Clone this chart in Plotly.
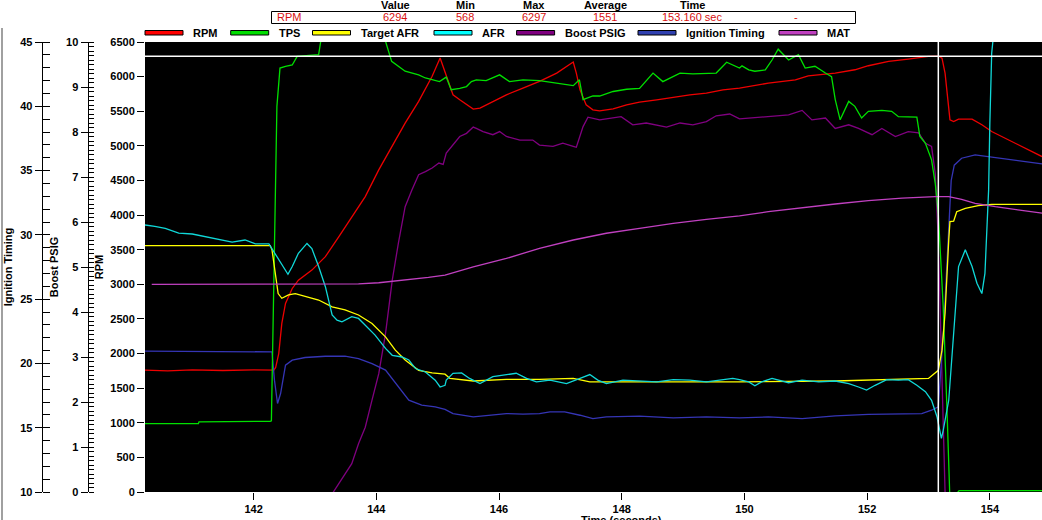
import plotly.graph_objects as go

# ---------------- data ----------------
rpm_pts = [(140.23, 1760), (140.6, 1750), (141.0, 1765), (141.5, 1755), (142.0, 1765), (142.33, 1760),
           (142.36, 1800), (142.41, 2000), (142.46, 2435), (142.52, 2724), (142.63, 2940), (142.73, 3060),
           (142.95, 3205), (143.17, 3400), (143.39, 3690), (143.60, 3978), (143.82, 4267), (144.04, 4653),
           (144.26, 4990), (144.47, 5328), (144.69, 5642), (144.91, 6004), (145.04, 6268), (145.14, 6002),
           (145.25, 5737), (145.36, 5665), (145.47, 5592), (145.58, 5530), (145.69, 5544), (145.85, 5617),
           (146.12, 5737), (146.39, 5833), (146.66, 5930), (146.94, 6050), (147.10, 6147), (147.21, 6210),
           (147.26, 6050), (147.32, 5810), (147.42, 5592), (147.53, 5520), (147.64, 5506), (147.86, 5535),
           (148.08, 5592), (148.29, 5631), (148.57, 5665), (148.84, 5703), (149.11, 5737), (149.38, 5761),
           (149.65, 5810), (149.92, 5833), (150.07, 5858), (150.39, 5906), (150.83, 5954), (151.04, 6012),
           (151.48, 6050), (151.80, 6099), (152.02, 6157), (152.35, 6219), (152.67, 6253), (153.00, 6292),
           (153.16, 6297), (153.22, 6268), (153.27, 6050), (153.33, 5568), (153.35, 5376), (153.41, 5352),
           (153.49, 5386), (153.71, 5386), (153.87, 5304), (154.03, 5207), (154.19, 5135), (154.41, 5048),
           (154.63, 4942), (154.85, 4845)]

tps_pts = [(140.23, 15.2), (141.10, 15.2), (141.11, 15.6), (142.08, 15.6), (142.27, 15.7), (142.29, 15.8),
           (142.33, 48.6), (142.38, 85.7), (142.43, 94.2), (142.52, 94.6), (142.63, 94.9), (142.71, 96.8),
           (143.06, 97.2), (143.11, 101.5), (143.2, 104.6), (144.0, 104.6), (144.12, 101.5), (144.25, 95.7),
           (144.47, 93.5), (144.69, 92.7), (144.80, 92.0), (144.96, 91.4), (145.03, 91.2), (145.14, 92.2),
           (145.22, 89.4), (145.36, 89.7), (145.47, 90.1), (145.55, 91.2), (145.63, 91.6), (145.79, 91.4),
           (146.01, 92.7), (146.17, 91.2), (146.39, 91.6), (146.66, 91.4), (146.88, 91.0), (147.21, 90.3),
           (147.31, 91.6), (147.37, 87.2), (147.53, 88.0), (147.64, 88.0), (147.86, 89.0), (148.08, 89.5),
           (148.29, 89.7), (148.51, 93.1), (148.67, 91.2), (148.95, 93.1), (149.16, 92.9), (149.38, 93.1),
           (149.54, 93.1), (149.71, 95.5), (149.92, 94.2), (149.96, 94.7), (150.07, 93.8), (150.17, 93.5),
           (150.34, 93.8), (150.45, 96.0), (150.55, 98.4), (150.72, 96.0), (150.88, 97.2), (150.99, 94.2),
           (151.15, 94.6), (151.32, 93.1), (151.42, 92.3), (151.48, 87.2), (151.56, 82.7), (151.70, 86.8),
           (151.80, 85.7), (151.91, 83.1), (152.02, 84.6), (152.24, 84.8), (152.40, 84.6), (152.51, 83.4),
           (152.81, 83.3), (152.86, 79.0), (152.95, 77.5), (153.05, 73.8), (153.11, 68.6), (153.16, 61.9),
           (153.24, 41.2), (153.30, 18.9), (153.35, -2.0), (153.50, 0.3), (154.85, 0.3)]

tafr_pts = [(140.23, 14.75), (142.27, 14.75), (142.30, 14.65), (142.35, 14.18), (142.40, 13.63),
            (142.46, 13.52), (142.57, 13.60), (142.68, 13.63), (142.84, 13.57), (143.06, 13.48),
            (143.28, 13.32), (143.49, 13.25), (143.71, 13.13), (143.93, 12.93), (144.15, 12.62),
            (144.31, 12.31), (144.47, 12.08), (144.69, 11.84), (144.91, 11.78), (145.12, 11.75),
            (145.20, 11.65), (145.58, 11.59), (146.12, 11.63), (146.66, 11.63), (147.21, 11.65),
            (147.48, 11.57), (149.92, 11.57), (151.48, 11.59), (153.00, 11.65), (153.11, 11.77),
            (153.16, 11.84), (153.22, 12.31), (153.27, 13.17), (153.33, 14.88), (153.35, 15.31),
            (153.41, 15.32), (153.46, 15.54), (153.60, 15.62), (153.81, 15.68), (154.03, 15.71),
            (154.85, 15.71)]

afr_pts = [(140.23, 15.23), (140.39, 15.20), (140.56, 15.15), (140.78, 15.04), (141.00, 15.02),
           (141.21, 14.96), (141.43, 14.88), (141.65, 14.83), (141.86, 14.88), (142.03, 14.79),
           (142.25, 14.79), (142.35, 14.57), (142.46, 14.33), (142.56, 14.08), (142.63, 14.26),
           (142.73, 14.57), (142.87, 14.80), (142.95, 14.68), (143.06, 14.26), (143.17, 13.79),
           (143.28, 13.13), (143.36, 13.01), (143.44, 12.97), (143.60, 13.09), (143.71, 13.05),
           (143.82, 12.89), (143.98, 12.66), (144.15, 12.35), (144.26, 12.19), (144.42, 12.15),
           (144.53, 12.08), (144.64, 11.88), (144.80, 11.80), (144.96, 11.61), (145.04, 11.45),
           (145.12, 11.49), (145.14, 11.61), (145.25, 11.77), (145.39, 11.78), (145.52, 11.65),
           (145.69, 11.53), (145.90, 11.69), (146.12, 11.73), (146.28, 11.77), (146.45, 11.65),
           (146.61, 11.57), (146.83, 11.61), (147.10, 11.53), (147.32, 11.65), (147.48, 11.74),
           (147.61, 11.61), (147.75, 11.53), (148.02, 11.61), (148.29, 11.59), (148.57, 11.57),
           (148.84, 11.62), (149.11, 11.61), (149.38, 11.57), (149.65, 11.61), (149.81, 11.65),
           (149.92, 11.62), (150.07, 11.57), (150.17, 11.48), (150.28, 11.57), (150.45, 11.65),
           (150.72, 11.55), (150.94, 11.61), (151.21, 11.57), (151.48, 11.59), (151.70, 11.53),
           (151.86, 11.45), (151.99, 11.38), (152.13, 11.49), (152.32, 11.62), (152.51, 11.61),
           (152.67, 11.62), (152.81, 11.49), (152.95, 11.34), (153.05, 11.14), (153.14, 10.75),
           (153.21, 10.25), (153.24, 10.44), (153.33, 11.14), (153.38, 12.08), (153.43, 13.17),
           (153.49, 14.26), (153.60, 14.65), (153.71, 14.26), (153.79, 13.87), (153.87, 13.63),
           (153.92, 14.10), (153.98, 16.05), (154.00, 17.61), (154.03, 19.24), (154.06, 19.66),
           (154.10, 20.63), (154.85, 21.12)]

boost_pts = [(140.23, -10.0), (142.30, -10.0), (142.45, -4.0), (143.00, -1.0), (143.30, 0.0),
             (143.49, 0.41), (143.60, 0.63), (143.71, 1.07), (143.82, 1.44), (143.93, 2.04),
             (144.04, 2.63), (144.15, 3.52), (144.26, 4.71), (144.36, 5.53), (144.47, 6.34),
             (144.58, 6.71), (144.69, 7.05), (144.80, 7.12), (144.91, 7.20), (145.02, 7.31),
             (145.09, 7.28), (145.14, 7.53), (145.25, 7.71), (145.36, 7.90), (145.47, 7.97),
             (145.58, 8.11), (145.63, 8.08), (145.74, 8.01), (145.90, 7.94), (146.01, 8.01),
             (146.12, 7.90), (146.34, 7.82), (146.55, 7.82), (146.66, 7.71), (146.88, 7.68),
             (147.04, 7.75), (147.21, 7.68), (147.26, 7.66), (147.37, 8.12), (147.45, 8.33),
             (147.64, 8.27), (147.86, 8.31), (147.99, 8.34), (148.18, 8.16), (148.40, 8.20),
             (148.73, 8.11), (148.95, 8.20), (149.16, 8.16), (149.38, 8.23), (149.54, 8.36),
             (149.76, 8.40), (149.92, 8.29), (150.07, 8.31), (150.39, 8.34), (150.72, 8.38),
             (150.94, 8.48), (151.10, 8.27), (151.32, 8.31), (151.48, 8.08), (151.70, 8.16),
             (151.86, 8.08), (152.08, 7.94), (152.24, 8.08), (152.46, 7.90), (152.67, 8.01),
             (152.84, 7.98), (152.95, 7.75), (153.05, 7.68), (153.11, 7.08), (153.16, 5.60),
             (153.22, 2.63), (153.27, 0.0), (153.35, -5.0), (154.85, -10.0)]

ign_pts = [(140.23, 20.95), (142.27, 20.95), (142.30, 20.90), (142.34, 18.70), (142.39, 16.88),
           (142.44, 17.66), (142.52, 19.86), (142.63, 20.25), (142.84, 20.46), (143.17, 20.56),
           (143.49, 20.56), (143.71, 20.38), (143.93, 19.99), (144.15, 19.48), (144.36, 18.18),
           (144.53, 17.14), (144.74, 16.75), (144.96, 16.62), (145.12, 16.43), (145.25, 16.10),
           (145.58, 15.84), (145.85, 15.97), (146.12, 16.10), (146.39, 16.05), (146.66, 16.10),
           (146.83, 16.23), (147.07, 16.23), (147.32, 15.97), (147.53, 15.71), (147.75, 15.84),
           (148.29, 15.90), (148.84, 15.76), (149.38, 15.84), (149.92, 15.76), (150.39, 15.84),
           (150.94, 15.71), (151.48, 15.92), (152.02, 16.03), (152.57, 16.05), (152.89, 16.10),
           (153.05, 16.36), (153.16, 16.62), (153.25, 22.92), (153.34, 32.08), (153.37, 34.23),
           (153.42, 35.42), (153.54, 35.96), (153.76, 36.22), (153.98, 36.09), (154.19, 35.96),
           (154.63, 35.70), (154.85, 35.52)]

mat_pts = [(140.34, 92.3), (143.50, 92.3), (143.71, 92.5), (144.04, 93.0), (144.36, 93.9),
           (144.58, 94.5), (144.85, 95.4), (145.12, 96.4), (145.58, 100.1), (146.12, 103.8),
           (146.66, 108.3), (147.21, 112.0), (147.75, 115.0), (148.29, 117.2), (148.84, 119.4),
           (149.38, 121.2), (149.92, 122.7), (150.39, 124.6), (150.94, 126.4), (151.48, 128.0),
           (152.02, 129.5), (152.57, 130.6), (153.11, 131.3), (153.33, 131.3), (153.54, 130.1),
           (153.76, 128.3), (154.09, 126.8), (154.47, 125.4), (154.85, 123.9)]

cursor_time = 153.16
cursor_rpm = 6294

table_headers = ["Value", "Min", "Max", "Average", "Time"]
table_row = ["RPM", "6294", "568", "6297", "1551", "153.160 sec", "-"]

legend_names = ["RPM", "TPS", "Target AFR", "AFR", "Boost PSIG", "Ignition Timing", "MAT"]

# ---------------- styling ----------------
W, H = 1042, 520
PL, PT, PB = 145, 42, 492
FONT = "Liberation Sans, Arial, sans-serif"

line_colors = {"RPM": "#ee0000", "TPS": "#00e000", "Target AFR": "#ffff00", "AFR": "#10d8d8",
               "Boost PSIG": "#800080", "Ignition Timing": "#3535b5", "MAT": "#c040c0"}
swatch_colors = {"RPM": "#ff0000", "TPS": "#00dd00", "Target AFR": "#ffff00", "AFR": "#00ffff",
                 "Boost PSIG": "#800080", "Ignition Timing": "#3040b0", "MAT": "#c040c0"}


def px(X):
    return X / W


def py(Y):
    return (PB - Y) / (PB - PT)


def unzip(pts):
    return [p[0] for p in pts], [p[1] for p in pts]


fig = go.Figure()
series = [("RPM", rpm_pts, "y"), ("TPS", tps_pts, "y4"), ("Target AFR", tafr_pts, "y5"),
          ("AFR", afr_pts, "y5"), ("Boost PSIG", boost_pts, "y2"),
          ("Ignition Timing", ign_pts, "y3"), ("MAT", mat_pts, "y6")]
for name, pts, ax in series:
    t, v = unzip(pts)
    fig.add_trace(go.Scatter(x=t, y=v, mode="lines", name=name, yaxis=ax,
                             line=dict(color=line_colors[name], width=1.3),
                             showlegend=False, hoverinfo="skip"))

bold11 = dict(family=FONT, size=11, color="black", weight="bold")

fig.update_layout(
    width=W, height=H,
    margin=dict(l=0, r=0, t=PT, b=H - PB, pad=0),
    paper_bgcolor="white", plot_bgcolor="black",
    showlegend=False,
    xaxis=dict(domain=[PL / W, 1], range=[140.23, 154.85], dtick=2, tick0=142,
               ticks="outside", ticklen=7, tickcolor="black", tickfont=bold11,
               showgrid=False, zeroline=False, showline=False, automargin=False),
    yaxis=dict(range=[0, 6500], dtick=500, tick0=0, ticks="outside", ticklen=7,
               tickcolor="black", tickfont=bold11, showgrid=False, zeroline=False,
               showline=False, automargin=False,
               title=dict(text="RPM", font=bold11, standoff=4)),
    yaxis2=dict(range=[0, 10], dtick=1, tick0=0, overlaying="y", anchor="free",
                position=87.5 / W, side="left", showline=True, linecolor="black",
                linewidth=1, ticks="outside", ticklen=7, tickcolor="black",
                tickfont=bold11, showgrid=False, zeroline=False, automargin=False,
                minor=dict(ticks="inside", ticklen=5, dtick=0.1, tickcolor="black",
                           showgrid=False),
                title=dict(text="Boost PSIG", font=bold11, standoff=4)),
    yaxis3=dict(range=[10, 45], dtick=5, tick0=10, overlaying="y", anchor="free",
                position=41.7 / W, side="left", showline=True, linecolor="black",
                linewidth=1, ticks="outside", ticklen=7, tickcolor="black",
                tickfont=bold11, showgrid=False, zeroline=False, automargin=False,
                minor=dict(ticks="inside", ticklen=7, dtick=1, tickcolor="black",
                           showgrid=False),
                title=dict(text="Ignition Timing", font=bold11, standoff=4)),
    yaxis4=dict(range=[0, 100], overlaying="y", visible=False),
    yaxis5=dict(range=[9, 19.5], overlaying="y", visible=False),
    yaxis6=dict(range=[0, 200], overlaying="y", visible=False),
)

# cursor crosshair
fig.add_shape(type="line", xref="x", yref="paper", x0=cursor_time, x1=cursor_time, y0=0, y1=1,
              line=dict(color="white", width=1.5))
fig.add_shape(type="line", xref="paper", yref="y", x0=PL / W, x1=1, y0=cursor_rpm, y1=cursor_rpm,
              line=dict(color="white", width=1.5))

# window border on the left
fig.add_shape(type="line", xref="paper", yref="paper", x0=px(2), x1=px(2), y0=py(28), y1=py(522),
              line=dict(color="#a0a0a0", width=2))

# info table
header_x = [395, 465, 534, 605, 692]
for hx, txt in zip(header_x, table_headers):
    fig.add_annotation(x=px(hx), y=py(4.5), xref="paper", yref="paper", text=txt,
                       showarrow=False, xanchor="center", yanchor="middle", font=bold11)
fig.add_shape(type="rect", xref="paper", yref="paper", x0=px(271.5), x1=px(855.5),
              y0=py(23.5), y1=py(11.5), line=dict(color="black", width=1), fillcolor="white")
row_x = [289, 395, 465, 534, 605, 692, 796]
for rx, txt in zip(row_x, table_row):
    fig.add_annotation(x=px(rx), y=py(17.5), xref="paper", yref="paper", text=txt,
                       showarrow=False, xanchor="center", yanchor="middle",
                       font=dict(family=FONT, size=11, color="#d81010"))

# custom legend row
sw_left = [145, 230.7, 312.5, 434, 516.6, 638, 779]
for sx, name in zip(sw_left, legend_names):
    fig.add_shape(type="rect", xref="paper", yref="paper", x0=px(sx), x1=px(sx + 38),
                  y0=py(35), y1=py(30.5), line=dict(color="black", width=1),
                  fillcolor=swatch_colors[name])
    fig.add_annotation(x=px(sx + 46), y=py(32.5), xref="paper", yref="paper", text=name,
                       showarrow=False, xanchor="left", yanchor="middle", font=bold11)

# x axis title (partially cut by the window edge)
fig.add_annotation(x=px(621), y=py(520), xref="paper", yref="paper", text="Time (seconds)",
                   showarrow=False, xanchor="center", yanchor="middle", font=bold11)

fig.write_html("out.html",
               config={"displayModeBar": False},
               post_script="document.body.style.margin='0px';"
                           "document.body.style.overflow='hidden';")
